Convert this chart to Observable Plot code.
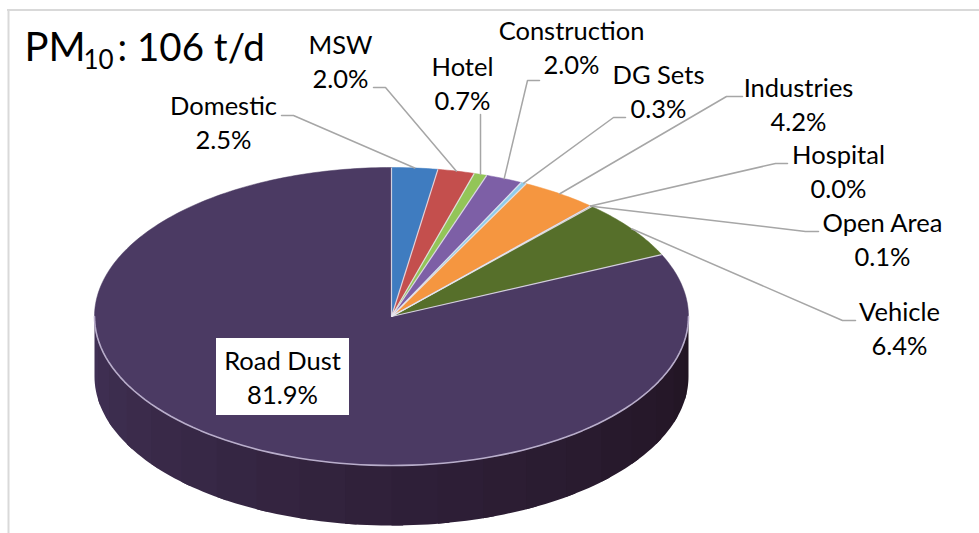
<!DOCTYPE html>
<html>
<head>
<meta charset="utf-8">
<style>html,body{margin:0;padding:0;background:#fff}svg{display:block}</style>
<script src="https://cdn.jsdelivr.net/npm/d3@7"></script>
<script src="https://cdn.jsdelivr.net/npm/@observablehq/plot@0.6"></script>
</head>
<body>
<div id="chart"></div>
<script>
// Data
const categories = ["Domestic","MSW","Hotel","Construction","DG Sets","Industries","Hospital","Open Area","Vehicle","Road Dust"];
const shares = [2.5,2.0,0.7,2.0,0.3,4.2,0.0,0.1,6.4,81.9];
const sliceColors = ["#3f7cc0","#c44f4d","#93c558","#7d5fa6","#8fcdea","#f59640","#2c4d75","#772c2a","#566f2a","#4b3a63"];

// Label layout: centre of each label, in chart pixels
const labelX = [223,340,462,571,658,798,838,882,899,282];
const labelY = [121,60,82,46,90,103,170,238,327,376];
// Leader-line starts and elbows (Road Dust has none)
const leaderStartX = [281,373,480,539,625,742,787,818,855];
const leaderElbowX = [293,385,480,527,613,726,775,805,842];
const leaderY      = [115,87,114,80,117,96,163,231,320];

// Pie frame
const cx = 391, cy = 316, rx = 297, ry = 149, depth = 60;
const labelFont = 25.5;

const pt = (a, dy = 0) => [cx + rx * Math.sin(a), cy - ry * Math.cos(a) + dy];
const arcs = d3.pie().sort(null).value(d => d)(shares);
const STEP = Math.PI / 180;

// Top-face wedges
const wedgePts = [];
arcs.forEach((s, i) => {
  const name = categories[i];
  const add = p => wedgePts.push({name, x: p[0], y: p[1]});
  add([cx, cy]);
  const n = Math.max(1, Math.ceil((s.endAngle - s.startAngle) / STEP));
  for (let k = 0; k <= n; k++) add(pt(s.startAngle + (s.endAngle - s.startAngle) * k / n));
  add([cx, cy]);
});

// Front wall, drawn as overlapping shaded facets like the original
const wallPts = [];
const shade = d3.scaleLinear().domain([Math.PI * 1.5, Math.PI, Math.PI / 2])
  .range(["#413155","#2f2039","#211422"]);
const facets = 20, wallStart = Math.PI * 1.5, wallEnd = Math.PI / 2;
const facetStep = (wallEnd - wallStart) / facets;
for (let f = 0; f < facets; f++) {
  const a0 = wallStart + facetStep * f;
  const a1 = a0 + facetStep * (f === facets - 1 ? 1 : 1.25);
  const c = shade(a0 + facetStep / 2);
  const id = "f" + f;
  const angles = d3.range(0, 9).map(k => a0 + (a1 - a0) * k / 8);
  const ring = [...angles.map(a => pt(a, 0)), ...angles.slice().reverse().map(a => pt(a, depth))];
  ring.concat([ring[0]]).forEach(p => wallPts.push({id, shade: c, x: p[0], y: p[1]}));
}

// Front rim highlight
const rim = d3.range(90, 271, 2).map(deg => pt(deg * Math.PI / 180));

// Radial separators
const seps = arcs.map(s => { const p = pt(s.startAngle); return {x: p[0], y: p[1]}; });

// Leaders: label -> elbow -> middle of the slice's edge
const leaderPts = [];
leaderStartX.forEach((sx, i) => {
  const s = arcs[i], e = pt((s.startAngle + s.endAngle) / 2);
  const name = categories[i];
  [[sx, leaderY[i]], [leaderElbowX[i], leaderY[i]], e].forEach(p => leaderPts.push({name, x: p[0], y: p[1]}));
});

const labels = categories.map((c, i) => ({
  text: c + "\n" + shares[i].toFixed(1) + "%", x: labelX[i], y: labelY[i]
}));

const chart = Plot.plot({
  width: 979, height: 533, margin: 0,
  x: {domain: [0, 979], range: [0, 979], axis: null},
  y: {domain: [0, 533], range: [0, 533], axis: null},
  color: {domain: categories, range: sliceColors},
  style: {background: "#fff", fontFamily: "Lato, sans-serif", overflow: "visible"},
  marks: [
    // chart frame
    Plot.ruleY([9.5], {x1: 7, x2: 979, stroke: "#d9d9d9", strokeWidth: 2}),
    Plot.ruleX([8], {y1: 9, y2: 533, stroke: "#d9d9d9", strokeWidth: 2}),
    // wall
    Plot.line(wallPts, {x: "x", y: "y", z: "id", fill: "shade", curve: "linear"}),
    // top
    Plot.line(wedgePts, {x: "x", y: "y", z: "name", fill: "name", stroke: "name", strokeWidth: 0.5, curve: "linear"}),
    Plot.link(seps, {x1: () => cx, y1: () => cy, x2: "x", y2: "y", stroke: "#e9e6ee", strokeWidth: 1.2, strokeOpacity: 0.85}),
    Plot.line(rim, {x: d => d[0], y: d => d[1], stroke: "#b9aecb", strokeWidth: 1.6, curve: "linear"}),
    // leaders
    Plot.line(leaderPts, {x: "x", y: "y", z: "name", stroke: "#a6a6a6", strokeWidth: 1.5, curve: "linear"}),
    // Road Dust label plate
    Plot.rect([{}], {x1: () => 216, x2: () => 349, y1: () => 338, y2: () => 415, fill: "#fff"}),
    // labels
    Plot.text(labels, {x: "x", y: "y", text: "text", fontSize: labelFont, lineHeight: 1.33, fill: "#000", textAnchor: "middle"}),
    // title
    Plot.text(["PM"], {x: () => 24, y: () => 48, text: d => d, fontSize: 40, fill: "#000", textAnchor: "start"}),
    Plot.text(["10"], {x: () => 83, y: () => 60, text: d => d, fontSize: 26, fill: "#000", textAnchor: "start"}),
    Plot.text([": 106 t/d"], {x: () => 117, y: () => 48, text: d => d, fontSize: 38.5, fill: "#000", textAnchor: "start"})
  ]
});
document.getElementById("chart").appendChild(chart);
</script>
</body>
</html>
